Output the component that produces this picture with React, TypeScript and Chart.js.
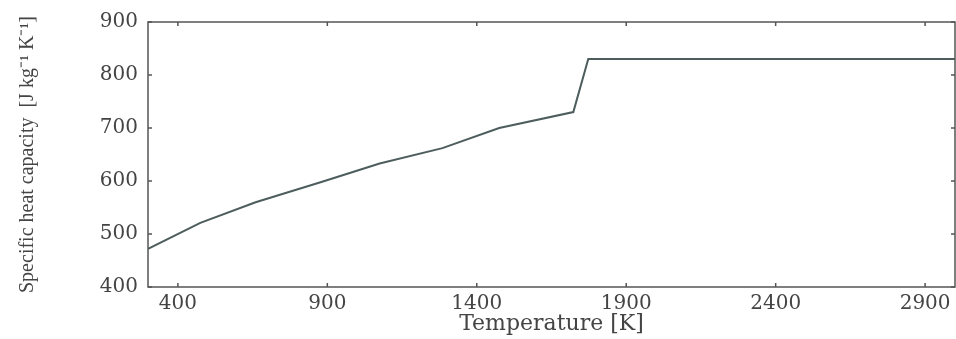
import React, { useEffect, useRef } from "react";
import { Chart, registerables } from "chart.js";

Chart.register(...registerables);

const temperatures = [300, 475, 660, 880, 1075, 1285, 1475, 1723, 1773, 3000];
const heatCapacity = [472, 521, 560, 598, 633, 662, 700, 730, 830, 830];
const xTickValues = [400, 900, 1400, 1900, 2400, 2900];
const yTickValues = [400, 500, 600, 700, 800, 900];

const AXIS_COLOR = "#555";
const TEXT_COLOR = "#444";
const FONT = "'DejaVu Serif', 'Liberation Serif', serif";

const boxTicks = {
  id: "boxTicks",
  afterDraw(chart: any) {
    const { ctx, chartArea } = chart;
    const { left, right, top, bottom } = chartArea;
    ctx.save();
    ctx.strokeStyle = AXIS_COLOR;
    ctx.lineWidth = 1.5;
    ctx.strokeRect(left, top, right - left, bottom - top);
    const len = 4;
    const xs = chart.scales.x;
    const ys = chart.scales.y;
    ctx.beginPath();
    xTickValues.forEach((v) => {
      const px = xs.getPixelForValue(v);
      ctx.moveTo(px, bottom);
      ctx.lineTo(px, bottom - len);
      ctx.moveTo(px, top);
      ctx.lineTo(px, top + len);
    });
    yTickValues.forEach((v) => {
      const py = ys.getPixelForValue(v);
      ctx.moveTo(left, py);
      ctx.lineTo(left + len, py);
      ctx.moveTo(right, py);
      ctx.lineTo(right - len, py);
    });
    ctx.stroke();
    ctx.restore();
  },
};

export default function App() {
  const ref = useRef<HTMLCanvasElement>(null);
  useEffect(() => {
    if (!ref.current) return;
    const chart = new Chart(ref.current, {
      type: "line",
      data: {
        datasets: [
          {
            data: temperatures.map((t, i) => ({ x: t, y: heatCapacity[i] })),
            borderColor: "#4d5d5d",
            borderWidth: 2,
            pointRadius: 0,
            tension: 0,
          },
        ],
      },
      options: {
        animation: false,
        responsive: false,
        layout: { padding: { left: 12, right: 1, top: 22, bottom: 0 } },
        plugins: { legend: { display: false }, tooltip: { enabled: false } },
        scales: {
          x: {
            type: "linear",
            min: 300,
            max: 3000,
            afterBuildTicks: (s: any) => {
              s.ticks = xTickValues.map((v) => ({ value: v }));
            },
            afterFit: (s: any) => {
              s.height = 52;
            },
            grid: { drawOnChartArea: false, drawTicks: false },
            border: { display: false },
            ticks: {
              padding: 5,
              color: TEXT_COLOR,
              font: { family: FONT, size: 20 },
              maxRotation: 0,
              callback: (v: any) => String(v),
            },
            title: {
              display: true,
              text: "Temperature [K]",
              color: TEXT_COLOR,
              font: { family: FONT, size: 22 },
              padding: { top: 0, bottom: 2 },
            },
          },
          y: {
            type: "linear",
            min: 400,
            max: 900,
            afterBuildTicks: (s: any) => {
              s.ticks = yTickValues.map((v) => ({ value: v }));
            },
            afterFit: (s: any) => {
              s.width = 136;
            },
            grid: { drawOnChartArea: false, drawTicks: false },
            border: { display: false },
            ticks: {
              padding: 10,
              color: TEXT_COLOR,
              font: { family: FONT, size: 20 },
              callback: (v: any) => String(v),
            },
            title: {
              display: true,
              text: "Specific heat capacity  [J kg⁻¹ K⁻¹]",
              color: TEXT_COLOR,
              font: { family: "'Liberation Serif', serif", size: 20 },
              padding: 4,
            },
          },
        },
      },
      plugins: [boxTicks],
    });
    return () => chart.destroy();
  }, []);
  return (
    <div style={{ position: "absolute", left: 0, top: 0, width: 956, height: 339, background: "#fff" }}>
      <canvas ref={ref} width={956} height={339} />
    </div>
  );
}
